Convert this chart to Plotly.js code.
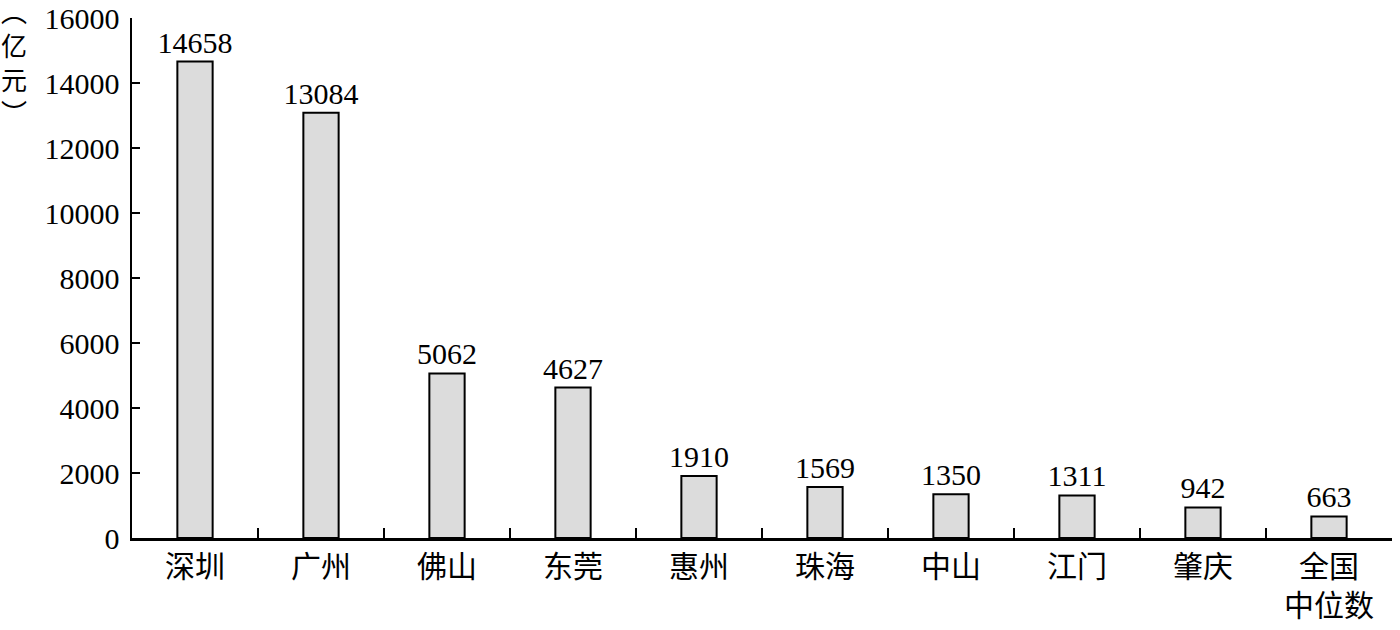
<!DOCTYPE html>
<html>
<head>
<meta charset="utf-8">
<script src="https://cdn.plot.ly/plotly-3.0.1.min.js"></script>
<style>
  html, body { margin: 0; padding: 0; background: #fff; }
  #chart { width: 1400px; height: 630px; }
</style>
</head>
<body>
<div id="chart"></div>
<script>
// 各城市数值（亿元）
const cities = ["深圳", "广州", "佛山", "东莞", "惠州", "珠海", "中山", "江门", "肇庆", "全国<br>中位数"];
const values = [14658, 13084, 5062, 4627, 1910, 1569, 1350, 1311, 942, 663];
const yTicks = [0, 2000, 4000, 6000, 8000, 10000, 12000, 14000, 16000];

const FONT = "Liberation Serif, 'Noto Sans CJK SC', serif";
const BAR_FILL = "#dcdcdc";

Plotly.newPlot(
  "chart",
  [
    {
      type: "bar",
      x: cities,
      y: values,
      text: values.map(String),
      textposition: "outside",
      constraintext: "none",
      cliponaxis: false,
      textfont: { family: FONT, size: 30, color: "#000" },
      marker: { color: BAR_FILL, line: { color: "#000", width: 2 } },
      hoverinfo: "x+y",
    },
  ],
  {
    width: 1400,
    height: 630,
    margin: { l: 132, r: 8, t: 18, b: 92 },
    paper_bgcolor: "#fff",
    plot_bgcolor: "#fff",
    bargap: 0.72,
    showlegend: false,
    font: { family: FONT, size: 28, color: "#000" },
    xaxis: {
      type: "category",
      showline: true,
      linecolor: "#000",
      linewidth: 2.5,
      ticks: "inside",
      tickson: "boundaries",
      ticklen: 10,
      tickwidth: 2.5,
      tickcolor: "#000",
      showgrid: false,
      tickfont: { family: FONT, size: 30, color: "#000" },
    },
    yaxis: {
      range: [0, 16000],
      tickvals: yTicks,
      ticktext: yTicks.map(String),
      showline: true,
      linecolor: "#000",
      linewidth: 2.5,
      ticks: "inside",
      ticklen: 8,
      tickwidth: 2.5,
      tickcolor: "#000",
      showgrid: false,
      zeroline: false,
      ticklabelstandoff: 4,
      tickfont: { family: FONT, size: 30, color: "#000" },
    },
    annotations: [
      {
        xref: "paper",
        yref: "paper",
        x: -0.094,
        y: 1.04,
        xanchor: "center",
        yanchor: "top",
        showarrow: false,
        align: "center",
        text: "︵<br>亿<br>元<br>︶",
        font: { family: FONT, size: 26, color: "#000" },
      },
    ],
  },
  { displayModeBar: false, staticPlot: true }
);
</script>
</body>
</html>
